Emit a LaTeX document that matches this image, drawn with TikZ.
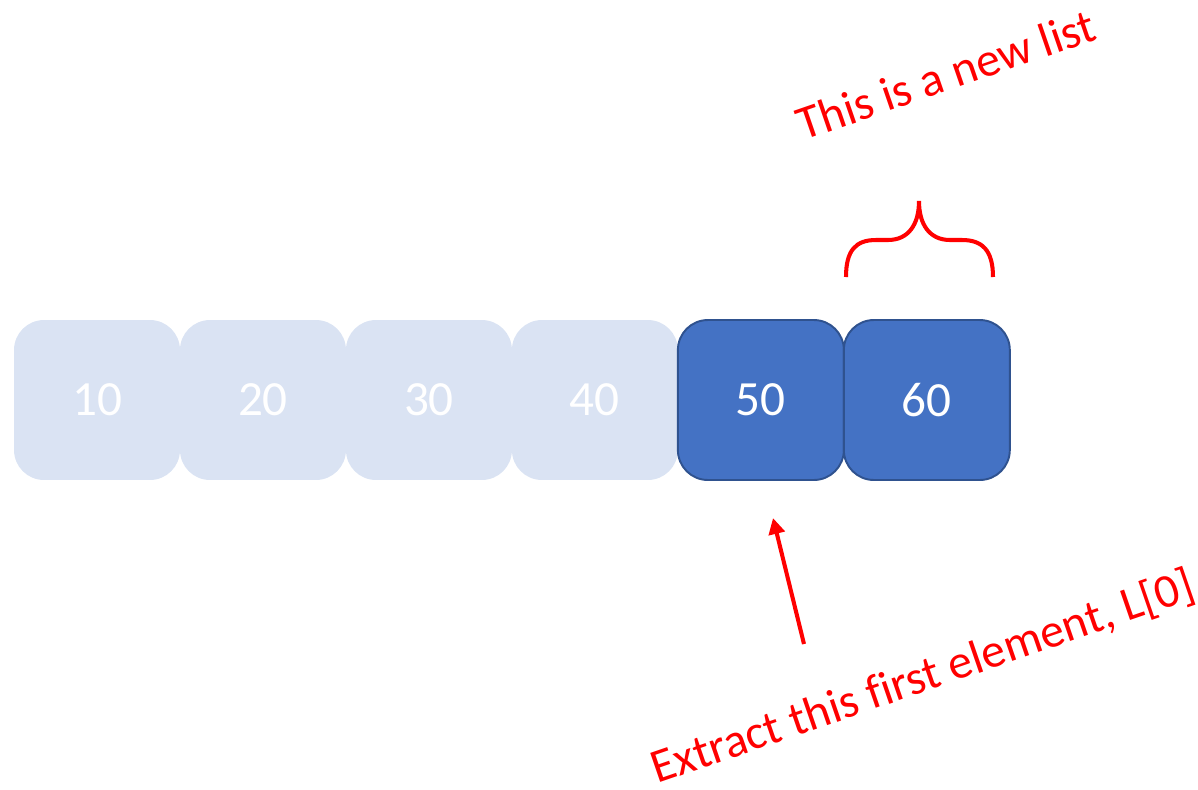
\documentclass[tikz,border=0pt]{standalone}
\usepackage{fontspec}
\setmainfont[Ligatures=NoCommon]{Carlito}
\usepackage{tikz}
\usetikzlibrary{positioning,arrows.meta}
\usepackage{xcolor}
\definecolor{cellpale}{HTML}{DAE3F3}
\definecolor{cellblue}{HTML}{4472C4}
\definecolor{cellline}{HTML}{2F528F}
\definecolor{notered}{HTML}{FF0000}

\begin{document}
\begin{tikzpicture}[x=0.02cm,y=-0.02cm,
    cell/.style={rectangle,rounded corners=0.6cm,minimum width=3.32cm,
                 minimum height=3.2cm,inner sep=0pt,outer sep=0pt,
                 text=white,font=\fontsize{28}{34}\selectfont},
    old/.style={cell,fill=cellpale},
    kept/.style={cell,fill=cellblue,draw=cellline,line width=1.1pt},
    note/.style={text=notered,font=\fontsize{27.2}{32}\selectfont,
                 rotate=19,anchor=base west,inner sep=0pt},
    brace/.style={draw=notered,line width=2.3pt},
    pointer/.style={-{Triangle[length=0.32cm,width=0.32cm]},
                    draw=notered,line width=2.3pt}]
    \useasboundingbox (0,0) rectangle (1198,789);
    % ------------------------------------------------------------------
    %                             NODES
    % ------------------------------------------------------------------
    % the list, first four cells faded
    \node[old]                  (n10) at (97,400) {10};
    \node[old,right=0pt of n10] (n20)             {20};
    \node[old,right=0pt of n20] (n30)             {30};
    \node[old,right=0pt of n30] (n40)             {40};
    % what is left of it
    \node[kept,right=0pt of n40] (n50) {50};
    \node[kept,right=0pt of n50] (n60) {60};

    % labels
    \node[note] (newlist) at (803,141) {This is a new list};
    \node[note] (extract) at (657,784) {Extract this first element, L[0]};

    \coordinate (tail) at (804,644);
    \coordinate (tip)  at (773,518);

    % ------------------------------------------------------------------
    %                             MARKS
    % ------------------------------------------------------------------
    % curly brace over the tail
    \draw[brace] (846,277) .. controls (846,250) and (856,240) .. (876,240)
        -- (888,240) .. controls (908,240) and (919,225) .. (919,201)
        .. controls (919,225) and (930,240) .. (950,240)
        -- (962,240) .. controls (982,240) and (993,250) .. (993,277);

    % arrow up to the first element
    \draw[pointer] (tail) -- (tip);
\end{tikzpicture}
\end{document}
